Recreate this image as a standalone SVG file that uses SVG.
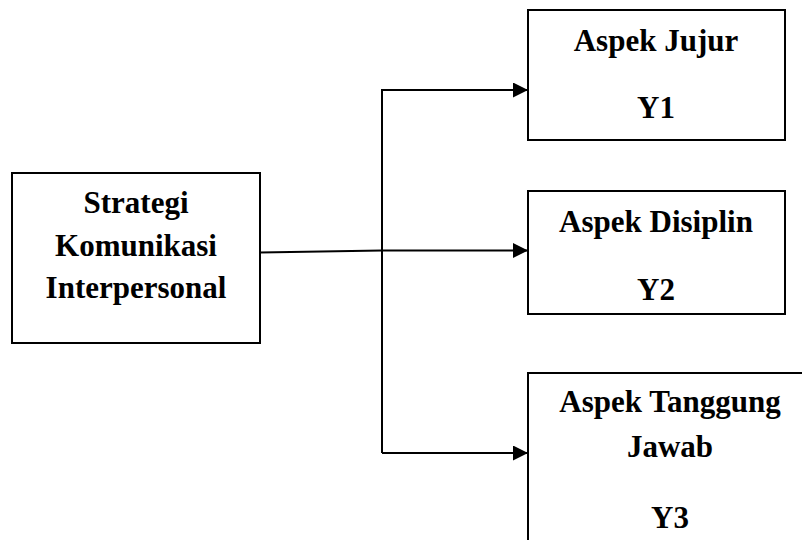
<svg xmlns="http://www.w3.org/2000/svg" width="802" height="540" viewBox="0 0 802 540">
<style>
.box{fill:#fff;stroke:#000;stroke-width:2}
.t{font-family:"Liberation Serif","Times New Roman",serif;font-weight:bold;font-size:31px;text-anchor:middle;fill:#000}
.c{fill:none;stroke:#000;stroke-width:2}
</style>
<defs>
<marker id="ah" markerWidth="16" markerHeight="16" refX="15" refY="7.5" orient="auto" markerUnits="userSpaceOnUse">
<path d="M0,0 L15,7.5 L0,15 Z" fill="#000"/>
</marker>
</defs>
<g id="connectors">
<path class="c" d="M260,252.5 L382,250.5 L528,250.5" marker-end="url(#ah)"/>
<path class="c" d="M382,453 L382,90 L528,90" marker-end="url(#ah)"/>
<path class="c" d="M382,453 L528,453" marker-end="url(#ah)"/>
</g>
<g id="strategi">
<rect class="box" x="12" y="173" width="248" height="170"/>
<text class="t" x="136" y="213">Strategi</text>
<text class="t" x="136" y="256">Komunikasi</text>
<text class="t" x="136" y="298">Interpersonal</text>
</g>
<g id="jujur">
<rect class="box" x="528" y="10" width="257" height="130"/>
<text class="t" x="656" y="51">Aspek Jujur</text>
<text class="t" x="656" y="118">Y1</text>
</g>
<g id="disiplin">
<rect class="box" x="528" y="191" width="257" height="123"/>
<text class="t" x="656" y="232">Aspek Disiplin</text>
<text class="t" x="656" y="300">Y2</text>
</g>
<g id="tanggung">
<rect class="box" x="528" y="373" width="284" height="180"/>
<text class="t" x="670" y="412">Aspek Tanggung</text>
<text class="t" x="670" y="457">Jawab</text>
<text class="t" x="670" y="528">Y3</text>
</g>
</svg>
